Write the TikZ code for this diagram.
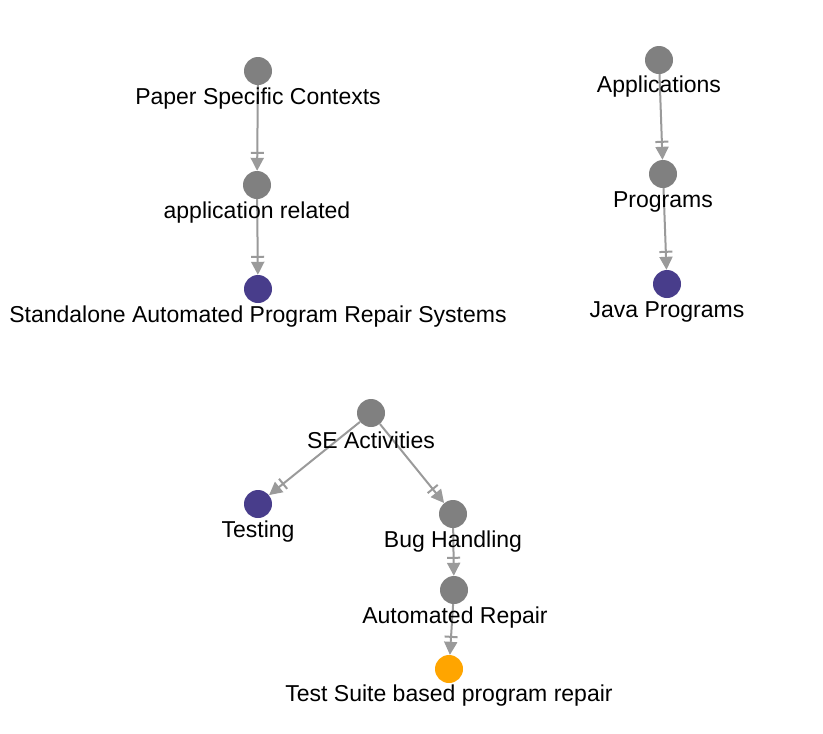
\documentclass[tikz,border=0pt]{standalone}
\usepackage{fontspec}
\setmainfont{Liberation Sans}
\usetikzlibrary{arrows.meta}
\definecolor{nodegray}{HTML}{808080}
\definecolor{edgegray}{HTML}{9A9A9A}
\definecolor{leafpurple}{HTML}{483D8B}
\definecolor{leaforange}{HTML}{FFA500}
\begin{document}
\begin{tikzpicture}[x=1pt,y=-1pt,
  dot/.style={circle,fill=nodegray,minimum size=28pt,inner sep=0pt},
  purpledot/.style={dot,fill=leafpurple},
  orangedot/.style={dot,fill=leaforange},
  lbl/.style={font=\fontsize{23}{27}\selectfont,text=black,inner sep=0pt,anchor=center},
  edge/.style={draw=edgegray,line width=2pt,
    -{Bar[width=13pt,line width=2pt,sep=4pt]Triangle[length=13pt,width=13pt]}}
]
\useasboundingbox (0,0) rectangle (823,734);
% nodes
\node[dot] (psc) at (258,71) {};
\node[dot] (apr) at (257,185) {};
\node[purpledot] (sap) at (258,289) {};
\node[dot] (app) at (659,60) {};
\node[dot] (prg) at (663,174) {};
\node[purpledot] (jav) at (667,284) {};
\node[dot] (sea) at (371,413) {};
\node[purpledot] (tst) at (258,504) {};
\node[dot] (bug) at (453,514) {};
\node[dot] (aut) at (454,590) {};
\node[orangedot] (tsb) at (449,669) {};
% edges
\draw[edge] (psc) -- (apr);
\draw[edge] (apr) -- (sap);
\draw[edge] (app) -- (prg);
\draw[edge] (prg) -- (jav);
\draw[edge] (sea) -- (tst);
\draw[edge] (sea) -- (bug);
\draw[edge] (bug) -- (aut);
\draw[edge] (aut) -- (tsb);
% labels
\node[lbl] (pscl) at (258,99) {Paper Specific Contexts};
\node[lbl] (aprl) at (257,213) {application related};
\node[lbl] (sapl) at (258,317) {Standalone Automated Program Repair Systems};
\node[lbl] (appl) at (659,87) {Applications};
\node[lbl] (prgl) at (663,202) {Programs};
\node[lbl] (javl) at (667,312) {Java Programs};
\node[lbl] (seal) at (371,440) {SE Activities};
\node[lbl] (tstl) at (258,532) {Testing};
\node[lbl] (bugl) at (453,542) {Bug Handling};
\node[lbl] (autl) at (455,618) {Automated Repair};
\node[lbl] (tsbl) at (449,696) {Test Suite based program repair};
\end{tikzpicture}
\end{document}
